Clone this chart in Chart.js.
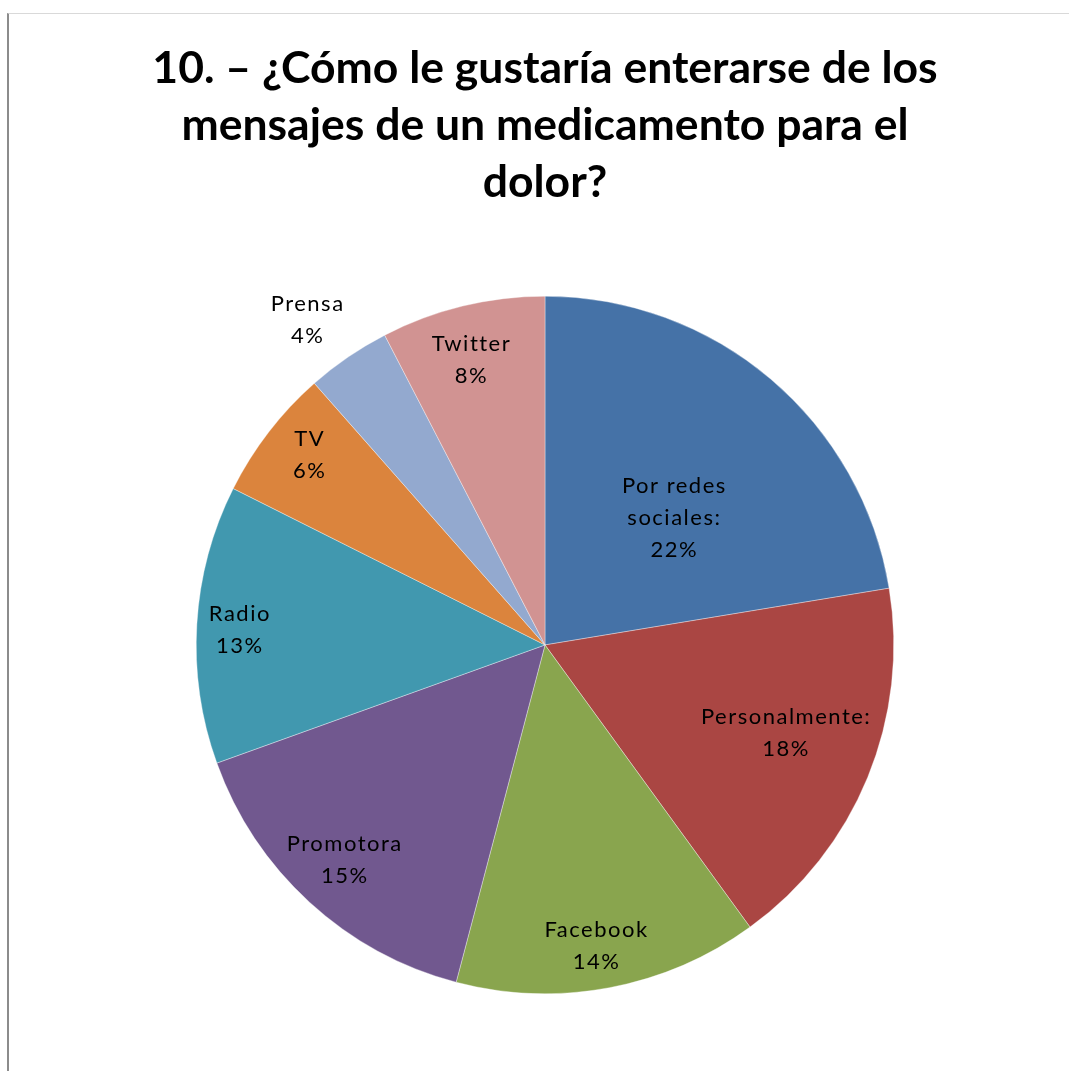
<!DOCTYPE html>
<html>
<head>
<meta charset="utf-8">
<script src="https://cdn.jsdelivr.net/npm/chart.js@4/dist/chart.umd.min.js"></script>
<style>
  html, body { margin: 0; padding: 0; background: #fff; }
  #wrap { position: relative; width: 1069px; height: 1071px; overflow: hidden; }
  #pie { position: absolute; left: 0; top: 0; }
  #frame {
    position: absolute; left: 7px; top: 13px; right: 0; bottom: 0;
    border-top: 1px solid #d9d9d9; border-left: 2px solid #8c8c8c;
    pointer-events: none;
  }
</style>
</head>
<body>
<div id="wrap">
  <canvas id="pie" width="1069" height="1071"></canvas>
  <div id="frame"></div>
</div>
<script>
(function () {
    'use strict';

    /* ─── Data ─── */
    var categories = ['Por redes sociales:', 'Personalmente:', 'Facebook', 'Promotora', 'Radio', 'TV', 'Prensa', 'Twitter'];
    var shares = [22.4, 17.6, 14.1, 15.4, 12.9, 6.1, 3.9, 7.6];
    var titleLines = ['10. – ¿Cómo le gustaría enterarse de los', 'mensajes de un medicamento para el', 'dolor?'];

    /* ─── Style ─── */
    var colors = ['#4572A7', '#AA4643', '#89A54E', '#71588F', '#4198AF', '#DB843D', '#93A9CF', '#D19392'];
    // label distance (fraction of radius) and small angular nudge (degrees), like Excel's best fit
    var labelDist = [0.52, 0.736, 0.875, 0.842, 0.876, 0.867, 1.153, 0.843];
    var labelNudge = [5.2, -2.3, 0.9, 0.5, -0.6, 1.3, -1.8, -0.8];
    var labelFont = '22px Lato, "Open Sans", sans-serif';
    var labelLine = 32;
    var wrapWidth = 160;

    function wrap(ctx, text) {
        var words = text.split(' ');
        var lines = [];
        var cur = '';
        words.forEach(function (w) {
            var test = cur ? cur + ' ' + w : w;
            if (cur && ctx.measureText(test).width > wrapWidth) {
                lines.push(cur);
                cur = w;
            } else {
                cur = test;
            }
        });
        if (cur) lines.push(cur);
        return lines;
    }

    var sliceLabels = {
        id: 'sliceLabels',
        afterDatasetsDraw: function (chart) {
            var ctx = chart.ctx;
            var meta = chart.getDatasetMeta(0);
            var data = chart.data.datasets[0].data;
            var total = data.reduce(function (a, b) { return a + b; }, 0);
            ctx.save();
            ctx.font = labelFont;
            ctx.fillStyle = '#000';
            ctx.textAlign = 'center';
            ctx.textBaseline = 'middle';
            if ('letterSpacing' in ctx) ctx.letterSpacing = '1.5px';
            meta.data.forEach(function (arc, i) {
                var p = arc.getProps(['x', 'y', 'startAngle', 'endAngle', 'outerRadius'], true);
                var mid = (p.startAngle + p.endAngle) / 2 + labelNudge[i] * Math.PI / 180;
                var r = p.outerRadius * labelDist[i];
                var cx = p.x + Math.cos(mid) * r;
                var cy = p.y + Math.sin(mid) * r;
                var lines = wrap(ctx, chart.data.labels[i]);
                lines.push(Math.round(data[i] / total * 100) + '%');
                var y0 = cy - (lines.length - 1) * labelLine / 2;
                lines.forEach(function (t, k) {
                    ctx.fillText(t, cx, y0 + k * labelLine);
                });
            });
            ctx.restore();
        }
    };

    new Chart(document.getElementById('pie'), {
        type: 'pie',
        data: {
            labels: categories,
            datasets: [{
                data: shares,
                backgroundColor: colors,
                borderColor: 'rgba(255,255,255,0.6)',
                borderWidth: 0.6,
                hoverOffset: 0
            }]
        },
        options: {
            responsive: false,
            animation: false,
            layout: { padding: { left: 21, right: 0, top: 0, bottom: 77 } },
            plugins: {
                legend: { display: false },
                tooltip: { enabled: false },
                title: {
                    display: true,
                    text: titleLines,
                    color: '#000',
                    font: { family: 'Lato, "Open Sans", sans-serif', size: 44.5, weight: 'bold', lineHeight: 1.28 },
                    padding: { top: 40, bottom: 85 }
                }
            }
        },
        plugins: [sliceLabels]
    });
})();
</script>
</body>
</html>
